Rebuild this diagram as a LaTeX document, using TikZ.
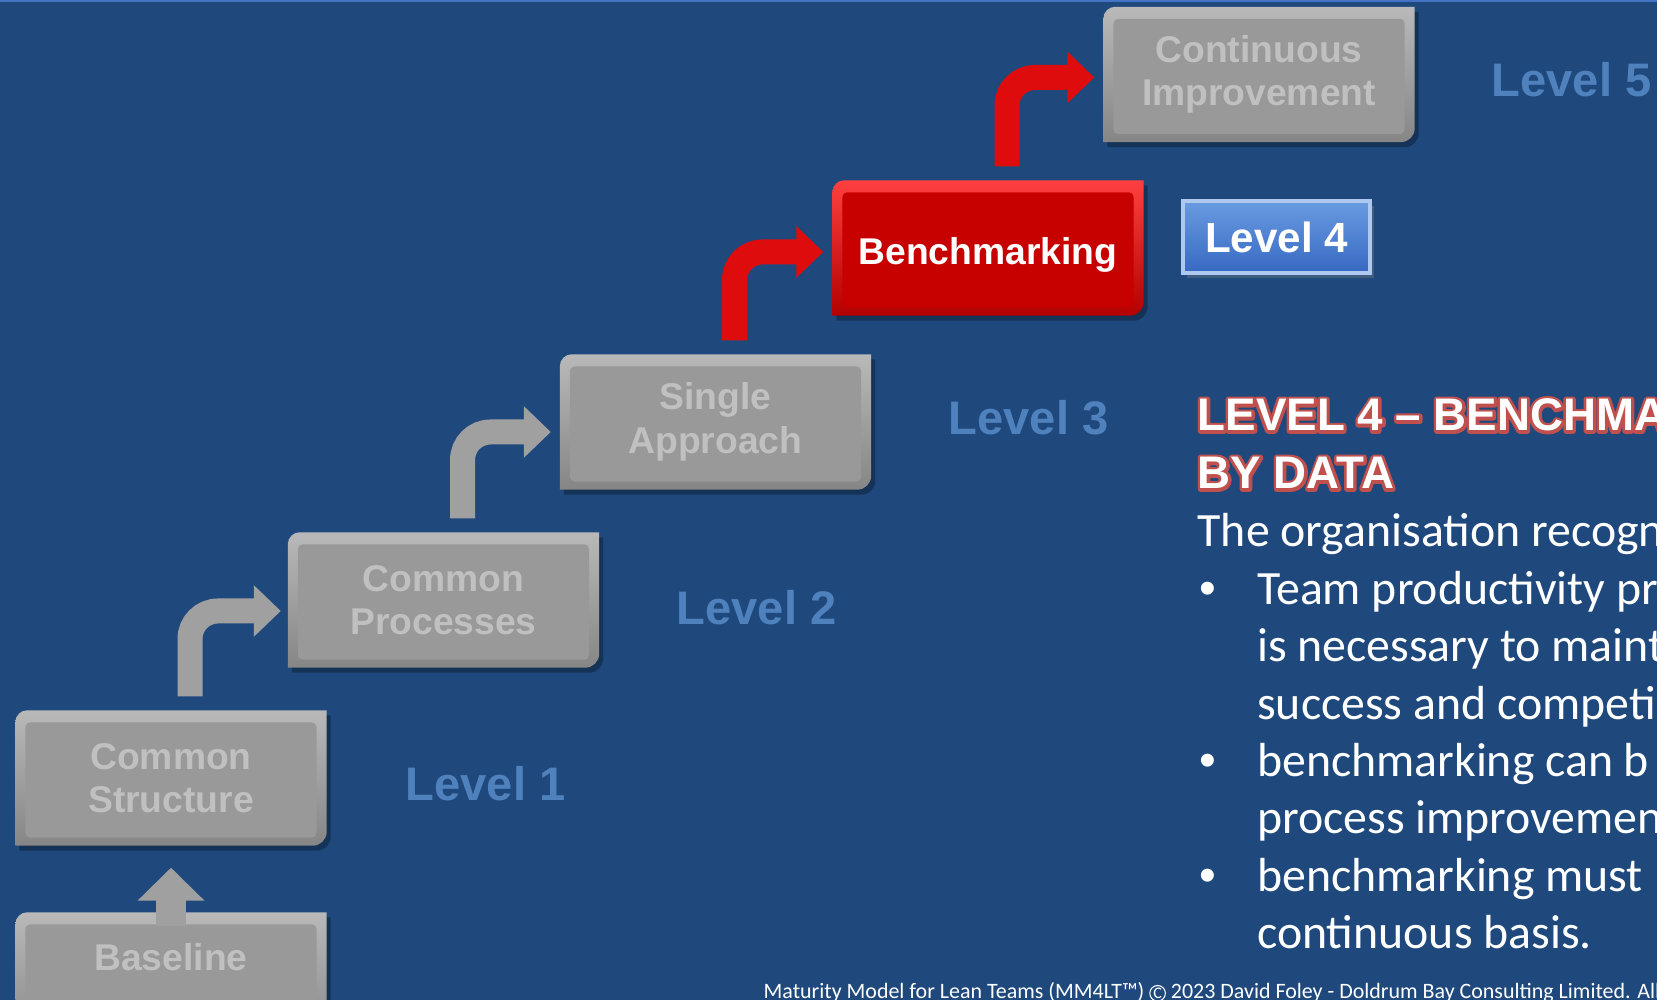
\documentclass[tikz,border=0pt]{standalone}
\usepackage{fontspec}
\setmainfont{Carlito}
\newfontfamily\arialfont{Liberation Sans}
\usetikzlibrary{arrows.meta, backgrounds, shadows}

\definecolor{slideblue}{RGB}{31,73,125}
\definecolor{topline}{RGB}{68,114,196}
\definecolor{levelblue}{RGB}{79,129,189}
\definecolor{steptext}{RGB}{192,192,192}
\definecolor{arrowgray}{RGB}{160,160,160}
\definecolor{arrowred}{RGB}{222,12,12}
\definecolor{outlinered}{RGB}{192,80,77}

% outline of a step: rounded top left and bottom right corners
\newcommand{\steppath}[2]{([shift={#2}]#1.south west) -- ([shift={#2}, yshift=-0.12cm]#1.north west) arc[start angle=180, end angle=90, radius=0.12cm] -- ([shift={#2}]#1.north east) -- ([shift={#2}, yshift=0.14cm]#1.south east) arc[start angle=0, end angle=-90, radius=0.14cm] -- cycle}
\newcommand{\stepshape}[4]{%
  \fill[black, opacity=0.3] \steppath{#1}{(0.04,-0.05)};
  \path[top color=#2, bottom color=#3] \steppath{#1}{(0,0)};
  \fill[#4, rounded corners=0.05cm] ([shift={(0.1,0.08)}]#1.south west) rectangle ([shift={(-0.1,-0.12)}]#1.north east);
}
% white letters on a red rim (rim = same letters stroked wide, text render mode 2)
\newcommand{\redrim}[1]{\rlap{\color{outlinered}\special{pdf:literal direct 1.7 w 1 j 2 Tr}#1\special{pdf:literal direct 0 Tr 0.4 w 0 j}}#1}
\newcommand{\circC}{\tikz[baseline=(cc.base)]\node[circle, draw=white, line width=0.3pt, inner sep=0.2pt, text=white, font=\fontsize{4.6}{5}\selectfont] (cc) {C};}

\tikzset{
  stepbox/.style={minimum width=3.1cm, minimum height=1.34cm, inner sep=0pt, align=center,
    font=\arialfont\bfseries\fontsize{10.6}{12.4}\selectfont, text=steptext},
  levellabel/.style={anchor=base west, inner sep=0pt, font=\arialfont\bfseries\fontsize{13.4}{16}\selectfont, text=levelblue},
  bentarrow/.style={line width=0.25cm, rounded corners=0.28cm, -{Triangle[length=0.27cm, width=0.5cm]}},
  bodytext/.style={anchor=base west, inner sep=0pt, text=white, font=\fontsize{13.6}{16.3}\selectfont},
  headtext/.style={anchor=base west, inner sep=0pt, text=white, font=\arialfont\bfseries\fontsize{13}{16.5}\selectfont}
}

\begin{document}
\begin{tikzpicture}
  \useasboundingbox (0,0) rectangle (16.57,10);

  % steps
  \node[stepbox, text depth=0.46cm] (base) at (1.71,0.2) {Baseline};
  \node[stepbox] (struct) at (1.71,2.22) {Common\\Structure};
  \node[stepbox] (proc) at (4.435,4.0) {Common\\Processes};
  \node[stepbox] (single) at (7.155,5.78) {Single\\Approach};
  \node[stepbox, text=white, text height=0.41cm] (bench) at (9.88,7.52) {Benchmarking};
  \node[stepbox] (cont) at (12.59,9.255) {Continuous\\Improvement};

  % arrows between steps
  \draw[arrowgray, line width=0.3cm, -{Triangle[length=0.33cm, width=0.65cm]}] ([yshift=-0.14cm]base.north) -- ([yshift=-0.22cm]struct.south);
  \draw[bentarrow, arrowgray] ([xshift=0.19cm, yshift=0.14cm]struct.north) |- ([xshift=-0.07cm, yshift=-0.11cm]proc.west);
  \draw[bentarrow, arrowgray] ([xshift=0.19cm, yshift=0.14cm]proc.north) |- ([xshift=-0.09cm, yshift=-0.10cm]single.west);
  \draw[bentarrow, arrowred] ([xshift=0.19cm, yshift=0.14cm]single.north) |- ([xshift=-0.09cm, yshift=-0.04cm]bench.west);
  \draw[bentarrow, arrowred] ([xshift=0.19cm, yshift=0.14cm]bench.north) |- ([xshift=-0.09cm, yshift=-0.03cm]cont.west);

  % level labels
  \node[levellabel] (lvone) at (4.05,1.99) {Level 1};
  \node[levellabel] (lvtwo) at (6.76,3.755) {Level 2};
  \node[levellabel] (lvthree) at (9.48,5.65) {Level 3};
  \node[levellabel] (lvfive) at (14.91,9.03) {Level 5};
  \node[draw={rgb,255:red,175;green,200;blue,240}, line width=1.2pt, top color={rgb,255:red,105;green,155;blue,225},
    bottom color={rgb,255:red,55;green,105;blue,195}, minimum width=1.87cm, minimum height=0.72cm, inner sep=0pt,
    drop shadow={opacity=0.35, shadow xshift=0.04cm, shadow yshift=-0.05cm},
    text=white, font=\arialfont\bfseries\fontsize{12}{14}\selectfont] (lvfour) at (12.765,7.63) {Level 4};

  % description
  \node[headtext] (headone) at (11.97,5.69) {\redrim{LEVEL 4 – BENCHMA}};
  \node[headtext] (headtwo) at (11.97,5.11) {\redrim{BY DATA}};
  \node[bodytext] (intro) at (11.97,4.53) {The organisation recogn};
  \foreach \txt [count=\i] in {Team productivity pr, is necessary to maint, success and competi,
      benchmarking can b, process improvemen, benchmarking must, continuous basis.}
    \node[bodytext] (line\i) at (12.565,{4.53-\i*0.574}) {\txt};
  \foreach \i in {1,4,6}
    \node[bodytext, font=\arialfont\fontsize{13.6}{16.3}\selectfont] (dot\i) at (11.99,{4.53-\i*0.574}) {•};

  \node[anchor=base west, inner sep=0pt, text=white, font=\fontsize{6.25}{7.5}\selectfont] (footer) at (7.63,0.015)
    {Maturity Model for Lean Teams (MM4LT™) \circC{} 2023 David Foley - Doldrum Bay Consulting Limited. All};

  \begin{scope}[on background layer]
    \fill[slideblue] (0,0) rectangle (16.57,10);
    \fill[topline] (0,9.98) rectangle (16.57,10);
    \foreach \n in {base,struct,proc,single,cont}
      {\stepshape{\n}{gray!55}{gray!95}{gray!80}}
    \stepshape{bench}{red!75!white}{red!70!black}{red!78!black}
  \end{scope}
\end{tikzpicture}
\end{document}
